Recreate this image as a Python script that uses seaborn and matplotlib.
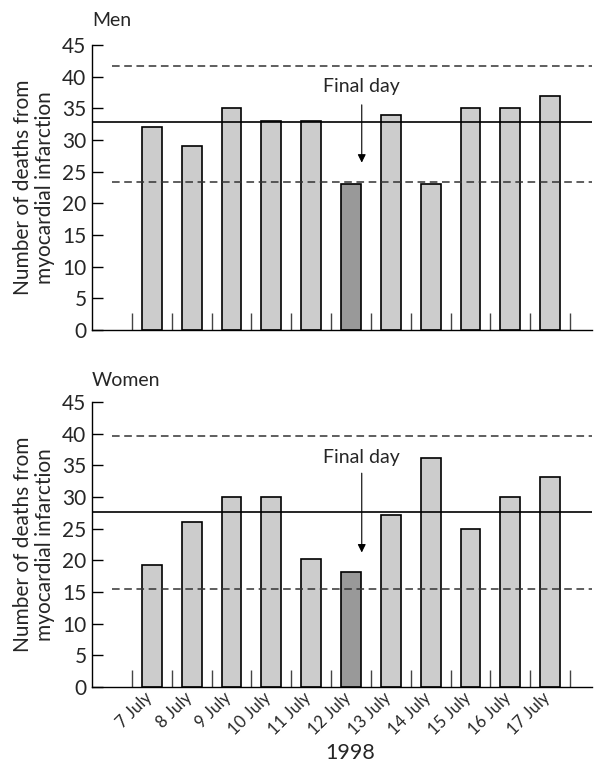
import numpy as np
import seaborn as sns
import matplotlib.pyplot as plt
import matplotlib.transforms as mtransforms

# data
dates = ['7 July', '8 July', '9 July', '10 July', '11 July', '12 July',
         '13 July', '14 July', '15 July', '16 July', '17 July']
men_deaths = [32, 29, 35, 33, 33, 23, 34, 23, 35, 35, 37]
women_deaths = [19.3, 26, 30, 30, 20.2, 18.2, 27.2, 36.2, 25, 30, 33.1]
final_day = '12 July'

# mean and limits (solid / dashed reference lines)
men_mean, men_low, men_high = 32.8, 23.4, 41.7
women_mean, women_low, women_high = 27.7, 15.4, 39.6

sns.set_style('white')
plt.rcParams['font.family'] = ['Lato', 'DejaVu Sans']

fig = plt.figure(figsize=(6.01, 7.64), dpi=100)
ax_men = fig.add_axes([0.1531, 0.568, 0.832, 0.373])
ax_women = fig.add_axes([0.1531, 0.1008, 0.832, 0.373])

bar_colors = ['#999999' if d == final_day else '#cccccc' for d in dates]


def draw_panel(ax, values, mean, low, high, arrow_top, arrow_bottom, text_y, title, title_y):
    sns.barplot(x=dates, y=values, hue=dates, palette=bar_colors, legend=False,
                width=0.5, edgecolor='black', linewidth=1.2, ax=ax)
    ax.set_xlim(-1.5, 11.05)
    ax.set_ylim(0, 45)
    ax.set_yticks(np.arange(0, 46, 5))
    ax.tick_params(axis='y', left=True, direction='in', length=8, width=1,
                   labelsize=15, pad=4, color='black')
    # short boundary ticks between days
    ax.set_xticks(np.arange(-0.5, 11, 1), minor=True)
    ax.tick_params(axis='x', which='minor', bottom=True, direction='in', length=12,
                   width=1, color='#444444')
    ax.tick_params(axis='x', which='major', length=0)
    for s in ['top', 'right']:
        ax.spines[s].set_visible(False)
    for s in ['left', 'bottom']:
        ax.spines[s].set_color('black')
        ax.spines[s].set_linewidth(1)

    ax.axhline(mean, color='black', lw=1.2)
    ax.hlines([low, high], -1.0, 11.05, colors='#333333', lw=1.1, linestyles=(0, (5, 3)))

    ax.annotate('', xy=(5.27, arrow_bottom), xytext=(5.27, arrow_top),
                arrowprops=dict(arrowstyle='-|>', color='black', lw=0.8, mutation_scale=12))
    ax.text(5.27, text_y, 'Final day', ha='center', va='center', fontsize=14)

    ax.set_xlabel('')
    ax.set_ylabel('')
    fig.text(92 / 601, title_y, title, ha='left', va='center', fontsize=14)
    pos = ax.get_position()
    fig.text(34 / 601, (pos.y0 + pos.y1) / 2, 'Number of deaths from\nmyocardial infarction',
             rotation=90, ha='center', va='center', fontsize=15, multialignment='center',
             linespacing=1.15)


draw_panel(ax_men, men_deaths, men_mean, men_low, men_high, 36, 26, 38.5, 'Men', 1 - 20 / 764)
draw_panel(ax_women, women_deaths, women_mean, women_low, women_high, 34.2, 20.8, 36.3,
           'Women', 1 - 380 / 764)

ax_men.set_xticklabels([])
ax_women.set_xticks(range(len(dates)))
ax_women.set_xticklabels(dates, rotation=45, ha='right', rotation_mode='anchor', fontsize=12)
ax_women.tick_params(axis='x', which='major', pad=2)
shift = mtransforms.ScaledTranslation(-8 / 100, 0, fig.dpi_scale_trans)
for lab in ax_women.get_xticklabels():
    lab.set_transform(lab.get_transform() + shift)
ax_women.set_xlabel('')
fig.text(350 / 601, 1 - 753 / 764, '1998', ha='center', va='center', fontsize=15.5)

fig.savefig('out.png', dpi=100)
